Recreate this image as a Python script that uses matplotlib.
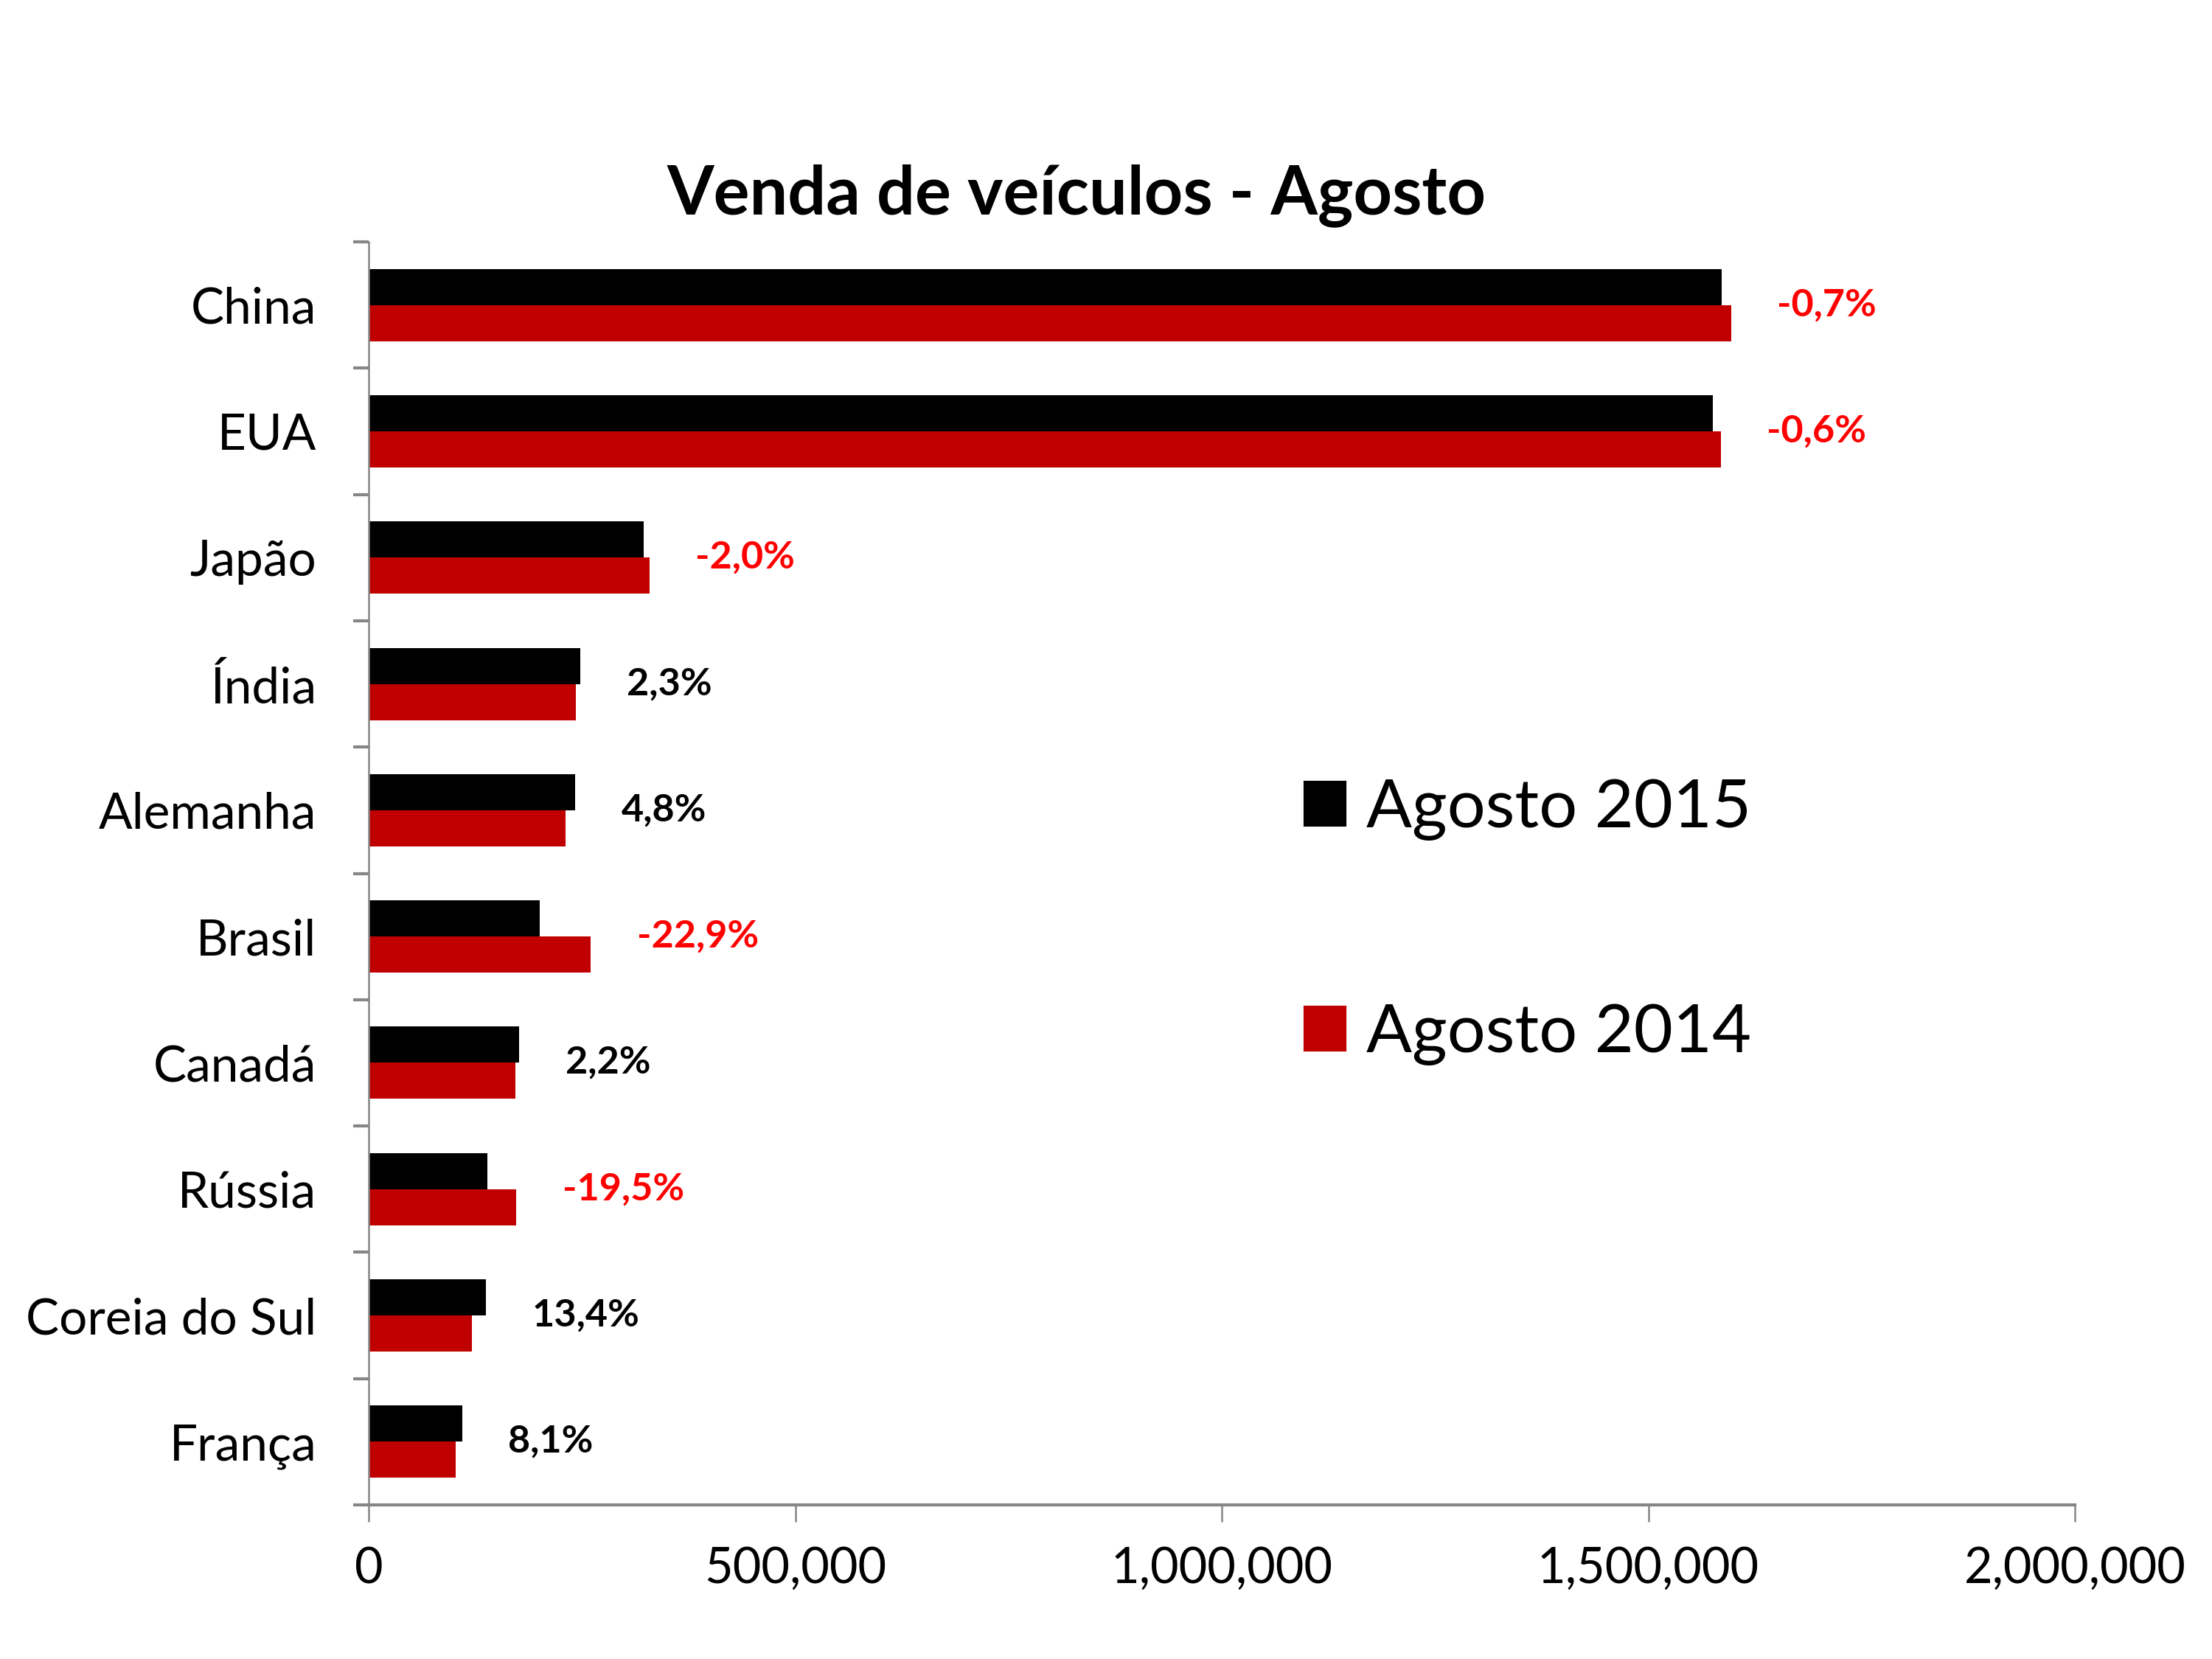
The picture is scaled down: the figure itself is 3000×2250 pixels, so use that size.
import matplotlib
matplotlib.use("Agg")
import matplotlib.pyplot as plt
import matplotlib.ticker as mticker
from matplotlib.patches import Patch
import numpy as np

plt.rcParams['font.family'] = ['Lato', 'DejaVu Sans']

paises = ["China", "EUA", "Japão", "Índia", "Alemanha", "Brasil", "Canadá",
          "Rússia", "Coreia do Sul", "França"]
agosto_2015 = [1586000, 1576000, 322600, 248000, 242000, 200600, 176300,
               139300, 137300, 109600]
agosto_2014 = [1597000, 1585000, 329100, 242700, 230800, 260100, 172100,
               172900, 121100, 101900]
variacao = ["-0,7%", "-0,6%", "-2,0%", "2,3%", "4,8%", "-22,9%", "2,2%",
            "-19,5%", "13,4%", "8,1%"]
x_ticks = [0, 500000, 1000000, 1500000, 2000000]

COL_2015 = "#000000"
COL_2014 = "#C00000"
AXIS_GRAY = "#868686"

fig = plt.figure(figsize=(10, 7.5), dpi=300)
ax = fig.add_axes([0.1667, 0.0929, 0.938 - 0.1667, 0.8542 - 0.0929])

y = np.arange(len(paises))
h = 0.286
ax.barh(y - h / 2, agosto_2015, height=h, color=COL_2015, label="Agosto 2015")
ax.barh(y + h / 2, agosto_2014, height=h, color=COL_2014, label="Agosto 2014")

ax.set_ylim(len(paises) - 0.5, -0.5)
ax.set_xlim(0, 2000000)

# category tick marks at boundaries, labels at centers
ax.set_yticks(np.arange(len(paises) + 1) - 0.5)
ax.set_yticklabels([])
ax.set_yticks(y, minor=True)
ax.set_yticklabels(paises, minor=True)
ax.tick_params(axis='y', which='minor', length=0, pad=17, labelsize=16.2)
ax.tick_params(axis='y', which='major', length=5, width=1, color=AXIS_GRAY)

ax.set_xticks(x_ticks)
ax.xaxis.set_major_formatter(mticker.FuncFormatter(lambda v, p: f"{int(v):,}"))
ax.tick_params(axis='x', length=5.5, width=0.6, color=AXIS_GRAY, pad=8,
               labelsize=16)

for s in ["top", "right"]:
    ax.spines[s].set_visible(False)
ax.spines["left"].set_color(AXIS_GRAY)
ax.spines["left"].set_linewidth(0.6)
ax.spines["bottom"].set_color(AXIS_GRAY)
ax.spines["bottom"].set_linewidth(1.0)

for i, (a, b, lab) in enumerate(zip(agosto_2015, agosto_2014, variacao)):
    col = "#FF0000" if lab.startswith("-") else "#000000"
    ax.annotate(lab, xy=(max(a, b), i), xytext=(15, 0),
                textcoords="offset points", ha="left", va="center",
                fontsize=12.5, fontweight="bold", color=col)

fig.text(0.4867, 0.871, "Venda de veículos - Agosto", ha="center",
         va="baseline", fontsize=22, fontweight="bold")

handles = [Patch(color=COL_2015), Patch(color=COL_2014)]
ax.legend(handles, ["Agosto 2015", "Agosto 2014"], loc="upper left",
          bbox_to_anchor=(0.59, 0.531), bbox_transform=fig.transFigure,
          frameon=False, fontsize=22, handlelength=0.59, handleheight=0.6,
          handletextpad=0.32, labelspacing=2.4, borderpad=0, borderaxespad=0)

fig.savefig("out.png", dpi=300)
